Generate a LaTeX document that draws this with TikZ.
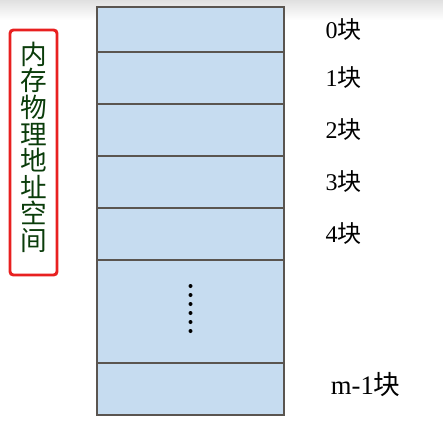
\documentclass[tikz,border=0pt]{standalone}
\usepackage{fontspec}
\setmainfont{Liberation Serif}
\newfontfamily\cjk{Noto Sans CJK SC}
\usepackage{tikz}
\usetikzlibrary{positioning}
\definecolor{blkfill}{RGB}{198,220,240}
\definecolor{blkline}{RGB}{90,85,80}
\definecolor{titlered}{RGB}{232,32,32}
\definecolor{titlegreen}{RGB}{10,60,10}

\begin{document}
\begin{tikzpicture}[
x=0.75pt, y=-0.75pt,
node distance=0pt,
block/.style={rectangle, draw=blkline, fill=blkfill, line width=0.8pt, minimum width=140.25pt, minimum height=39pt, inner sep=0pt, outer sep=0pt},
lbl/.style={inner sep=0pt, font=\fontsize{18}{18}\selectfont, right=31pt of #1}
]

\useasboundingbox (0,0) rectangle (443,425);
\shade[top color=black!12, bottom color=white] (0,0) rectangle (443,20);

\node[block, anchor=north, minimum height=33.75pt] (blk0) at (190.5,7) {};
\node[block, below=of blk0] (blk1) {};
\node[block, below=of blk1] (blk2) {};
\node[block, below=of blk2] (blk3) {};
\node[block, below=of blk3] (blk4) {};
\node[block, below=of blk4, minimum height=77.25pt] (blkdots) {};
\node[block, below=of blkdots] (blklast) {};

\foreach \i in {0,...,5}
  \fill (190.5,286+9*\i) circle (2);

\node[lbl=blk0] (l0) {0{\cjk 块}};
\node[lbl=blk1] (l1) {1{\cjk 块}};
\node[lbl=blk2] (l2) {2{\cjk 块}};
\node[lbl=blk3] (l3) {3{\cjk 块}};
\node[lbl=blk4] (l4) {4{\cjk 块}};
\node[inner sep=0pt, font=\fontsize{20}{20}\selectfont, right=35pt of blklast, yshift=3pt] (llast) {m-1{\cjk 块}};

% vertical title
\node[draw=titlered, line width=2.2pt, rounded corners=2.5pt, minimum width=35.25pt, minimum height=183.75pt] (titlebox) at (33.5,152.5) {};
\node[align=center, text=titlegreen, font=\cjk\fontsize{20}{19.9}\selectfont, yshift=4pt] (title) at (titlebox.center)
  {内\\存\\物\\理\\地\\址\\空\\间};

\end{tikzpicture}
\end{document}
